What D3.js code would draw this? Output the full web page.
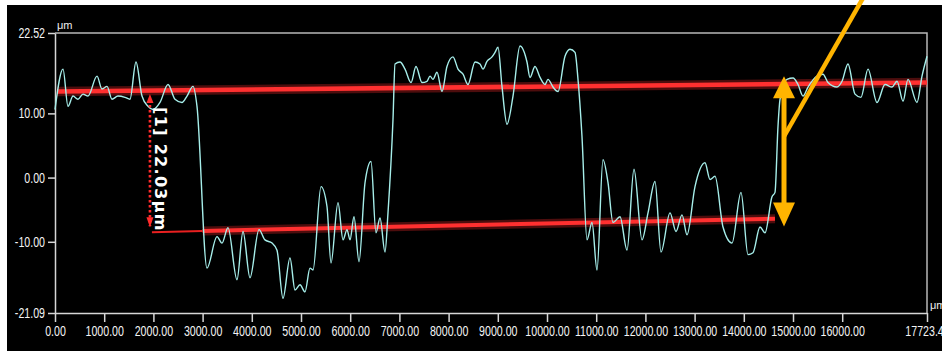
<!DOCTYPE html>
<html>
<head>
<meta charset="utf-8">
<script src="https://cdn.jsdelivr.net/npm/d3@7"></script>
<style>
  body { margin: 0; background: #fff; }
  svg { display: block; }
</style>
</head>
<body>
<div id="chart"></div>
<script>
// profile (x in μm, height in μm)
const profileX = [0, 163, 264, 366, 467, 569, 671, 854, 955, 1057, 1159, 1280, 1423, 1524, 1646, 1768, 1890, 1992,
  2134, 2297, 2439, 2581, 2683, 2805, 2886, 3089, 3293, 3394, 3516, 3699, 3821, 3963, 4146, 4268, 4411, 4512,
  4634, 4776, 4878, 4980, 5081, 5183, 5244, 5407, 5528, 5610, 5752, 5854, 5935, 5996, 6077, 6179, 6301, 6423,
  6524, 6606, 6707, 6768, 6870, 6911, 7012, 7114, 7236, 7337, 7459, 7561, 7622, 7683, 7764, 7866, 7967, 8089,
  8191, 8293, 8394, 8537, 8638, 8699, 8780, 8882, 8943, 9004, 9085, 9187, 9309, 9451, 9593, 9654, 9756, 9858,
  9959, 10020, 10122, 10224, 10366, 10467, 10569, 10630, 10711, 10813, 10915, 11016, 11138, 11240, 11341, 11484,
  11626, 11768, 11931, 12053, 12195, 12317, 12500, 12622, 12744, 12846, 13008, 13211, 13313, 13415, 13577, 13760,
  13943, 14085, 14187, 14329, 14431, 14573, 14634, 14695, 14736, 14878, 15000, 15102, 15203, 15305, 15488, 15610,
  15711, 15894, 15996, 16118, 16260, 16382, 16524, 16707, 16870, 17012, 17114, 17236, 17337, 17520, 17622, 17723.4];
const profileY = [10.6, 16.9, 11.1, 12.7, 12.2, 13.0, 12.7, 15.8, 13.8, 14.2, 12.2, 12.7, 12.5, 12.2, 18.0, 12.7, 11.1, 10.6,
  11.7, 14.5, 12.2, 11.7, 12.7, 14.2, 11.1, -14.1, -9.2, -10.2, -7.8, -15.9, -8.4, -15.6, -8.1, -9.7, -10.2, -11.3,
  -18.8, -12.5, -17.5, -16.7, -17.8, -14.1, -14.4, -1.4, -4.5, -13.3, -3.9, -9.7, -8.1, -9.7, -6.1, -13.1, -0.8, 2.5,
  -8.6, -6.3, -11.6, -5.5, 9.1, 17.7, 18.0, 16.9, 14.8, 17.3, 14.8, 15.0, 15.8, 15.3, 16.4, 13.4, 17.3, 18.8,
  16.9, 16.1, 14.5, 18.0, 17.7, 16.9, 18.1, 18.8, 19.5, 20.3, 14.2, 8.3, 12.7, 20.5, 18.0, 15.6, 17.3, 15.6,
  14.5, 15.3, 14.1, 13.4, 18.9, 20.0, 19.5, 15.3, 6.4, -9.7, -7.0, -14.4, 2.8, -0.8, -7.0, -6.1,
  -11.3, 1.3, -9.7, -5.5, -0.6, -11.6, -5.5, -8.4, -5.8, -8.9, -1.4, 2.3, -0.3, 0.2, -7.7, -10.2,
  -2.3, -12.0, -11.7, -7.7, -8.6, -3.0, -2.3, 8.0, 12.2, 15.3, 15.5, 14.5, 12.7, 14.1, 15.8, 16.1,
  14.8, 14.1, 15.0, 17.7, 13.0, 12.5, 16.9, 11.7, 14.5, 14.1, 15.0, 11.9, 15.3, 11.7, 15.8, 18.9];

const yTicks = [22.52, 10, 0, -10, -21.09];
const xTicks = [0, 1000, 2000, 3000, 4000, 5000, 6000, 7000, 8000, 9000, 10000, 11000, 12000, 13000, 14000, 15000, 16000, 17723.4];

// reference lines [x, y]
const upperRef = [[40, 13.4], [17723.4, 14.8]];
const lowerThin = [[1970, -8.5], [3000, -8.3]];
const lowerThick = [[3000, -8.3], [14634, -6.4]];
const measureX = 1930, measureTop = 13.0, measureBottom = -8.5;
const measureLabel = "[1] 22.03μm";
// orange step marker
const stepX = 14817, stepTop = 15.8, stepBottom = -7.6;
const pointer = [[14817, 6.4], [16470, 28.6]];

const W = 942, H = 351;
const x = d3.scaleLinear([0, 17723.4], [55, 927]);
const y = d3.scaleLinear([-21.09, 22.52], [313, 33]);

const svg = d3.select("#chart").append("svg")
  .attr("width", W).attr("height", H);

svg.append("rect").attr("x", 7).attr("y", 5).attr("width", W - 7).attr("height", H - 5).attr("fill", "#000");

const font = "'Liberation Sans', Arial, sans-serif";

// frame top/right
svg.append("path")
  .attr("d", `M${x(0)},${y(22.52)}H${x(17723.4)}V${y(-21.09)}`)
  .attr("fill", "none").attr("stroke", "#b8b8b8").attr("stroke-width", 1.5);

const gy = svg.append("g").attr("transform", `translate(${x(0)},0)`)
  .call(d3.axisLeft(y).tickValues(yTicks).tickFormat(d => d.toFixed(2)).tickSize(7).tickPadding(3).tickSizeOuter(0));
const gx = svg.append("g").attr("transform", `translate(0,${y(-21.09)})`)
  .call(d3.axisBottom(x).tickValues(xTicks).tickFormat(d => d.toFixed(2)).tickSize(9).tickPadding(4).tickSizeOuter(0));
[gy, gx].forEach(g => {
  g.selectAll("path, line").attr("stroke", "#d6d6d6").attr("stroke-width", 1.5);
  g.selectAll("text").attr("fill", "#f4f4f4").style("font", `14px ${font}`);
});
// condensed look of the instrument font
gy.selectAll(".tick text").attr("x", 0).attr("transform", "translate(-10,0) scale(0.76,1)");
gx.selectAll(".tick text").attr("transform", "scale(0.76,1)");

svg.append("text").attr("x", 57).attr("y", 29).attr("fill", "#eee")
  .style("font", `11px ${font}`).text("μm");
svg.append("text").attr("x", 930).attr("y", 309).attr("fill", "#eee")
  .style("font", `11px ${font}`).text("μm");

const seg = d3.line().x(d => x(d[0])).y(d => y(d[1]));

// red reference lines with glow
function redLine(pts, w) {
  svg.append("path").attr("d", seg(pts)).attr("stroke", "#ff2a2a").attr("stroke-opacity", 0.3)
    .attr("stroke-width", w + 5).attr("fill", "none");
  svg.append("path").attr("d", seg(pts)).attr("stroke", "#ff3030")
    .attr("stroke-width", w).attr("fill", "none");
}
redLine(upperRef, 4.5);
redLine(lowerThick, 4);
svg.append("path").attr("d", seg(lowerThin)).attr("stroke", "#e82020")
  .attr("stroke-width", 2).attr("fill", "none");

// profile
const line = d3.line().x((d, i) => x(profileX[i])).y(d => y(d)).curve(d3.curveMonotoneX);
svg.append("path").datum(profileY).attr("d", line)
  .attr("fill", "none").attr("stroke", "#a6eeea").attr("stroke-width", 1.4);

// measurement
const mx = x(measureX);
svg.append("line").attr("x1", mx).attr("x2", mx)
  .attr("y1", y(measureTop) + 6).attr("y2", y(measureBottom) - 6)
  .attr("stroke", "#ff2a2a").attr("stroke-width", 2.6).attr("stroke-dasharray", "2.5,2.5");
svg.append("path")
  .attr("d", `M${mx},${y(measureTop)}l-3.5,9h7Z`).attr("fill", "#ff2a2a");
svg.append("path")
  .attr("d", `M${mx},${y(measureBottom) - 5}l-3.5,-10h7Z`).attr("fill", "#ff2a2a");
svg.append("text")
  .attr("transform", `translate(${mx + 5},${y(measureTop) + 13}) rotate(90)`)
  .attr("fill", "#fff").attr("letter-spacing", 1.3)
  .style("font", "bold 16px 'DejaVu Sans', sans-serif")
  .text(measureLabel);

// orange marker
const orange = "#ffb400";
const sx = x(stepX), st = y(stepTop), sb = y(stepBottom);
svg.append("path").attr("d", seg(pointer))
  .attr("stroke", orange).attr("stroke-width", 4.5).attr("fill", "none");
svg.append("line").attr("x1", sx).attr("x2", sx).attr("y1", st + 18).attr("y2", sb - 18)
  .attr("stroke", orange).attr("stroke-width", 5);
svg.append("path").attr("d", `M${sx},${st}l-11,22h22Z`).attr("fill", orange);
svg.append("path").attr("d", `M${sx},${sb}l-11,-24h22Z`).attr("fill", orange);
</script>
</body>
</html>
